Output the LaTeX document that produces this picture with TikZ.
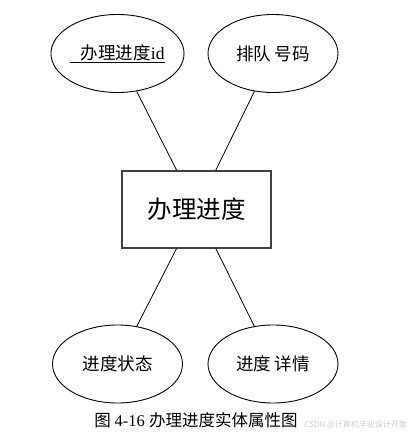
\documentclass[tikz,border=0pt]{standalone}
\usepackage{fontspec}
\setmainfont{Liberation Serif}
\newfontfamily\cjk{Noto Sans CJK SC}
\usetikzlibrary{shapes.geometric}

\begin{document}
\begin{tikzpicture}[x=1pt,y=-1pt,
    attr/.style={ellipse,draw=black,line width=0.9pt,minimum width=130pt,minimum height=78pt,inner sep=0pt,font=\fontsize{17.5}{20}\selectfont},
    entity/.style={rectangle,draw=black!75,line width=1.2pt,minimum width=149pt,minimum height=77pt,inner sep=0pt,font=\fontsize{24.5}{28}\selectfont}]
    \useasboundingbox (0,0) rectangle (409,439);
    % entity and its attributes
    \node[entity] (jindu) at (196.5,209.5) {\cjk 办理进度};
    \node[attr] (id) at (117.5,53.5) {\underline{\hspace*{0.6em}\cjk 办理进度\rmfamily id}};
    \node[attr] (paidui) at (273,53.5) {\cjk 排队 号码};
    \node[attr] (zhuangtai) at (117.5,364) {\cjk 进度状态};
    \node[attr] (xiangqing) at (273,364) {\cjk 进度 详情};
    \draw[line width=0.8pt] (id) -- (jindu);
    \draw[line width=0.8pt] (paidui) -- (jindu);
    \draw[line width=0.8pt] (zhuangtai) -- (jindu);
    \draw[line width=0.8pt] (xiangqing) -- (jindu);
    % caption
    \node[font=\fontsize{16.5}{20}\selectfont] (caption) at (196,420) {\cjk 图\ \rmfamily 4-16\ \cjk 办理进度实体属性图};
    \node[font=\fontsize{8}{10}\selectfont,text=black!20,anchor=east,inner sep=1pt] (mark) at (408,425) {\cjk CSDN @计算机毕业设计开发};
\end{tikzpicture}
\end{document}
